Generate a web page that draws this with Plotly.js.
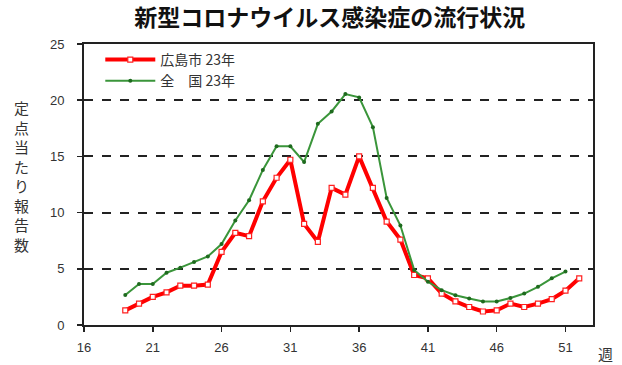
<!DOCTYPE html>
<html>
<head>
<meta charset="utf-8">
<script src="https://cdn.plot.ly/plotly-3.0.1.min.js"></script>
<style>html,body{margin:0;padding:0;background:#fff;}#chart{width:622px;height:365px;}</style>
</head>
<body>
<div id="chart"></div>
<script>
const weeksHiroshima = [19,20,21,22,23,24,25,26,27,28,29,30,31,32,33,34,35,36,37,38,39,40,41,42,43,44,45,46,47,48,49,50,51,52];
const hiroshima = [1.3,1.9,2.5,2.9,3.5,3.5,3.6,6.5,8.2,7.9,11.0,13.1,14.7,9.0,7.4,12.2,11.6,15.0,12.2,9.2,7.6,4.45,4.15,2.8,2.1,1.6,1.2,1.3,1.9,1.6,1.9,2.3,3.05,4.15];
const weeksNational = [19,20,21,22,23,24,25,26,27,28,29,30,31,32,33,34,35,36,37,38,39,40,41,42,43,44,45,46,47,48,49,50,51];
const national = [2.67,3.65,3.65,4.65,5.1,5.6,6.1,7.2,9.3,11.1,13.8,15.9,15.9,14.5,17.9,19.0,20.55,20.25,17.6,11.3,8.85,4.9,3.85,3.1,2.65,2.35,2.1,2.1,2.4,2.8,3.4,4.15,4.75];
const xTicks = [16,21,26,31,36,41,46,51];
const yTicks = [0,5,10,15,20,25];
const nameHiroshima = "広島市 23年";
const nameNational = "全　国 23年";
const chartTitle = "新型コロナウイルス感染症の流行状況";
const yTitle = "定点当たり報告数";
const xTitle = "週";

const traces = [
  {x: weeksHiroshima, y: hiroshima, name: nameHiroshima, type: 'scatter', mode: 'lines+markers',
   line: {color: '#ff0000', width: 4},
   marker: {symbol: 'square', size: 5, color: '#ffffff', line: {color: '#ff2020', width: 1.2}}},
  {x: weeksNational, y: national, name: nameNational, type: 'scatter', mode: 'lines+markers',
   line: {color: '#3a953a', width: 2},
   marker: {symbol: 'circle', size: 4, color: '#1e6a1e'}}
];

const layout = {
  width: 622, height: 365,
  margin: {l: 84, r: 29, t: 44, b: 40},
  paper_bgcolor: '#ffffff', plot_bgcolor: '#ffffff',
  font: {family: 'Liberation Sans, Arial, sans-serif', color: '#333'},
  title: {text: '<b>' + chartTitle + '</b>', x: 0.53, xanchor: 'center', y: 0.95, yanchor: 'middle',
          font: {family: 'Noto Sans CJK JP', size: 23, color: '#111'}},
  showlegend: true,
  legend: {x: 0.032, y: 1.0, xanchor: 'left', yanchor: 'top', bgcolor: 'rgba(0,0,0,0)',
           font: {family: 'Noto Sans CJK JP', size: 14, color: '#333'}, tracegroupgap: 0, itemwidth: 50},
  xaxis: {range: [16, 53], tickvals: xTicks, ticks: 'outside', ticklen: 5, tickwidth: 1.5, tickcolor: '#222',
          showline: true, linecolor: '#222', linewidth: 2, mirror: true, showgrid: false, zeroline: false,
          tickfont: {size: 13, color: '#333'}, ticklabelstandoff: 4},
  yaxis: {range: [0, 25], tickvals: yTicks, ticks: 'outside', ticklen: 5, tickwidth: 1.5, tickcolor: '#222',
          showline: true, linecolor: '#222', linewidth: 2, mirror: true, showgrid: true, gridcolor: '#222',
          griddash: 'dash', gridwidth: 2, zeroline: false,
          tickfont: {size: 13, color: '#333'}, ticklabelstandoff: 10},
  annotations: [
    {text: yTitle.split('').join('<br>'), xref: 'paper', yref: 'paper', x: -0.122, y: 0.53,
     xanchor: 'center', yanchor: 'middle', showarrow: false,
     font: {family: 'Noto Sans CJK JP', size: 15, color: '#333'}},
    {text: xTitle, xref: 'paper', yref: 'paper', x: 1.025, y: -0.1, xanchor: 'center', yanchor: 'middle',
     showarrow: false, font: {family: 'Noto Sans CJK JP', size: 15, color: '#333'}}
  ]
};
Plotly.newPlot('chart', traces, layout, {staticPlot: true, displayModeBar: false});
</script>
</body>
</html>
